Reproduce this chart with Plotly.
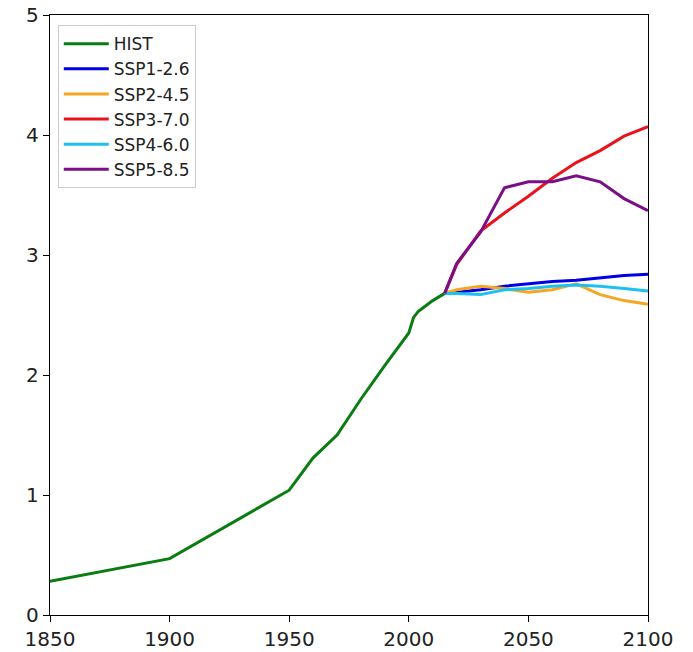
import plotly.graph_objects as go

hist_years = [1850, 1900, 1950, 1960, 1970, 1980, 1990, 2000, 2002, 2004, 2006, 2008, 2010, 2015]
hist_vals = [0.28, 0.47, 1.04, 1.31, 1.50, 1.80, 2.08, 2.35, 2.48, 2.53, 2.56, 2.59, 2.62, 2.68]

ssp_years = [2015, 2020, 2030, 2040, 2050, 2060, 2070, 2080, 2090, 2100]
ssp126 = [2.68, 2.69, 2.71, 2.74, 2.76, 2.78, 2.79, 2.81, 2.83, 2.84]
ssp245 = [2.68, 2.71, 2.74, 2.72, 2.69, 2.71, 2.76, 2.67, 2.62, 2.59]
ssp370 = [2.68, 2.92, 3.20, 3.35, 3.49, 3.64, 3.77, 3.87, 3.99, 4.07]
ssp460 = [2.68, 2.68, 2.67, 2.71, 2.72, 2.74, 2.75, 2.74, 2.72, 2.70]
ssp585 = [2.68, 2.93, 3.19, 3.56, 3.61, 3.61, 3.66, 3.61, 3.47, 3.37]

names = ["SSP1-2.6", "SSP2-4.5", "SSP3-7.0", "SSP4-6.0", "SSP5-8.5"]
series = [ssp126, ssp245, ssp370, ssp460, ssp585]
colors = ["#0000e6", "#f5a623", "#e8141c", "#1ec0f0", "#7a0f88"]

fig = go.Figure()
fig.add_trace(go.Scatter(x=hist_years, y=hist_vals, mode="lines", name="HIST",
                         line=dict(color="#0a7d12", width=3)))
for n, s, c in zip(names, series, colors):
    fig.add_trace(go.Scatter(x=ssp_years, y=s, mode="lines", name=n,
                             line=dict(color=c, width=3)))

axis_common = dict(showline=True, linecolor="black", linewidth=1.3, mirror=True,
                   ticks="outside", ticklen=6, tickcolor="black", showgrid=False,
                   zeroline=False, automargin=False,
                   tickfont=dict(family="DejaVu Sans", size=20, color="#222222"))
fig.update_xaxes(range=[1850, 2100], tickvals=[1850, 1900, 1950, 2000, 2050, 2100], **axis_common)
fig.update_yaxes(range=[0, 5], tickvals=[0, 1, 2, 3, 4, 5], **axis_common)

fig.update_layout(
    width=693, height=652,
    margin=dict(l=50, r=45, t=15, b=37),
    plot_bgcolor="white", paper_bgcolor="white",
    showlegend=True,
    legend=dict(x=0.013, y=0.983, xanchor="left", yanchor="top",
                bgcolor="white", bordercolor="#cccccc", borderwidth=1,
                itemwidth=45,
                font=dict(family="DejaVu Sans", size=17, color="#222222")),
)

fig.write_html("out.html", config={"displayModeBar": False},
               post_script="document.body.style.margin='0';")
